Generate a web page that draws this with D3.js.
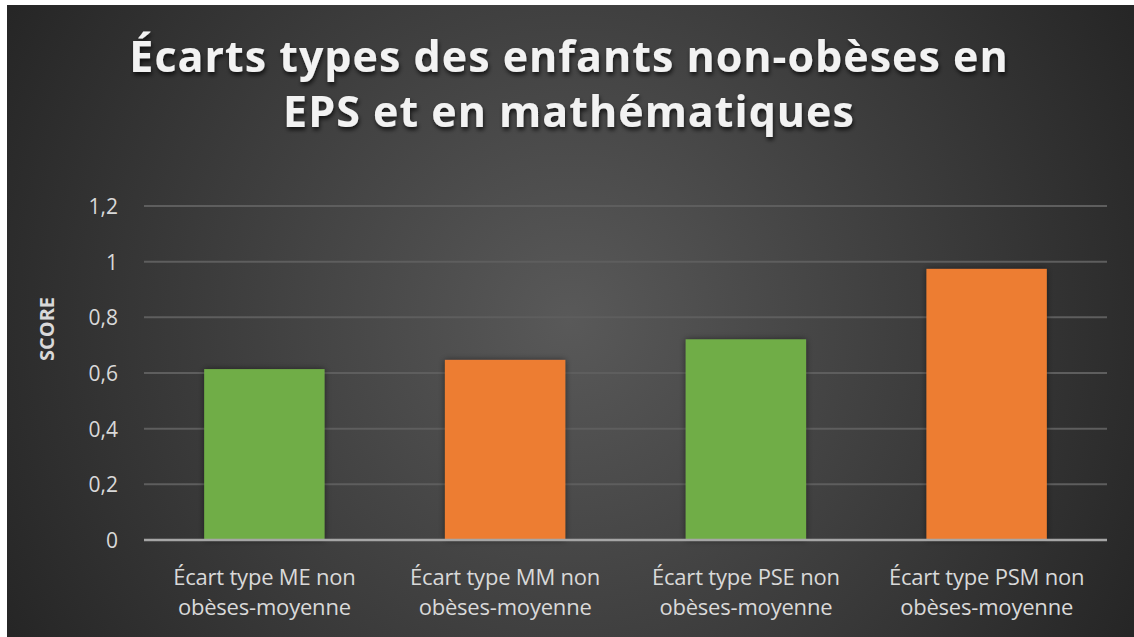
<!DOCTYPE html>
<html><head><meta charset="utf-8">
<script src="https://cdn.jsdelivr.net/npm/d3@7"></script>
<style>html,body{margin:0;padding:0;background:#fff;}svg{display:block;}</style>
</head><body>
<svg id="chart" width="1134" height="637"></svg>
<script>
const categories = [
  ["Écart type ME non", "obèses-moyenne"],
  ["Écart type MM non", "obèses-moyenne"],
  ["Écart type PSE non", "obèses-moyenne"],
  ["Écart type PSM non", "obèses-moyenne"]
];
const values = [0.614, 0.647, 0.721, 0.974];
const barColors = ["#70ad47", "#ed7d31", "#70ad47", "#ed7d31"];
const yTicks = [0, 0.2, 0.4, 0.6, 0.8, 1, 1.2];
const titleLines = ["Écarts types des enfants non-obèses en", "EPS et en mathématiques"];
const yTitle = "SCORE";

const svg = d3.select("#chart");
const defs = svg.append("defs");
const rg = defs.append("radialGradient").attr("id","bg").attr("gradientUnits","userSpaceOnUse")
  .attr("cx",570).attr("cy",320).attr("r",640);
rg.append("stop").attr("offset","0%").attr("stop-color","#595959");
rg.append("stop").attr("offset","100%").attr("stop-color","#262626");
const sh = defs.append("filter").attr("id","shadow").attr("x","-20%").attr("y","-20%").attr("width","140%").attr("height","140%");
sh.append("feDropShadow").attr("dx",0).attr("dy",0).attr("stdDeviation",3).attr("flood-color","#000").attr("flood-opacity",0.5);
const tsh = defs.append("filter").attr("id","tshadow").attr("x","-10%").attr("y","-30%").attr("width","120%").attr("height","160%");
tsh.append("feDropShadow").attr("dx",1).attr("dy",3).attr("stdDeviation",2).attr("flood-color","#000").attr("flood-opacity",0.7);

svg.append("rect").attr("x",7).attr("y",5).attr("width",1127).attr("height",632).attr("fill","url(#bg)");

const pLeft = 144, pRight = 1107, pTop = 206, pBottom = 540;
const x = d3.scaleBand().domain(d3.range(categories.length)).range([pLeft,pRight]).paddingInner(0.5).paddingOuter(0.25);
const y = d3.scaleLinear().domain([0,1.2]).range([pBottom, pTop]);

// grid
svg.append("g").selectAll("line").data(yTicks.filter(d=>d>0)).join("line")
  .attr("x1",pLeft).attr("x2",pRight).attr("y1",d=>y(d)).attr("y2",d=>y(d))
  .attr("stroke","#5e5e5e").attr("stroke-width",2);

// y axis labels
const yAxis = d3.axisLeft(y).tickValues(yTicks).tickSize(0).tickPadding(0)
  .tickFormat(d=>String(d).replace(".",","));
const ya = svg.append("g").attr("transform",`translate(${pLeft-26},0)`).call(yAxis);
ya.select(".domain").remove();
ya.selectAll("text").attr("fill","#d9d9d9").style("font-family","'Open Sans', sans-serif").style("font-size","21px").attr("dy","0.35em");

// bars
svg.append("g").selectAll("rect").data(values).join("rect")
  .attr("x",(d,i)=>x(i)).attr("width",x.bandwidth())
  .attr("y",d=>y(d)).attr("height",d=>y(0)-y(d))
  .attr("fill",(d,i)=>barColors[i]).attr("filter","url(#shadow)");

// baseline
svg.append("line").attr("x1",pLeft).attr("x2",pRight).attr("y1",y(0)).attr("y2",y(0))
  .attr("stroke","#a6a6a6").attr("stroke-width",2.5);

// x labels
const xl = svg.append("g").selectAll("text").data(categories).join("text")
  .attr("text-anchor","middle").attr("fill","#d9d9d9")
  .style("font-family","'Open Sans', sans-serif").style("font-size","22px").style("letter-spacing","-0.2px");
xl.each(function(d,i){
  const t = d3.select(this);
  d.forEach((line,j)=>{
    t.append("tspan").attr("x", x(i)+x.bandwidth()/2).attr("y", 585 + j*30).text(line);
  });
});

// y title
svg.append("text").attr("transform",`translate(54,329) rotate(-90)`)
  .attr("text-anchor","middle").attr("fill","#d9d9d9")
  .style("font-family","'Open Sans', sans-serif").style("font-weight","bold").style("font-size","20px")
  .text(yTitle);

// title
svg.append("g").selectAll("text").data(titleLines).join("text")
  .attr("x",569).attr("y",(d,i)=>72+i*55).attr("text-anchor","middle")
  .attr("fill","#f2f2f2").attr("filter","url(#tshadow)")
  .style("font-family","'Open Sans', sans-serif").style("font-weight","bold").style("font-size","43px")
  .style("letter-spacing","1px")
  .text(d=>d);
</script>
</body></html>
